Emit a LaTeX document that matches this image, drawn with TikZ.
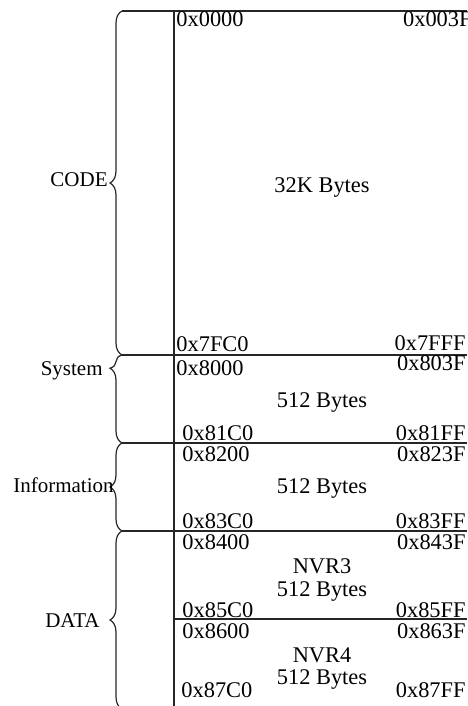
\documentclass[tikz,border=0pt]{standalone}
\usepackage{fontspec}
\setmainfont{Liberation Serif}
\usetikzlibrary{decorations.pathreplacing}
\tikzset{
    addrleft/.style={anchor=base west, inner sep=0pt, font=\fontsize{11.2}{12}\selectfont},
    addrright/.style={anchor=base east, inner sep=0pt, font=\fontsize{11.2}{12}\selectfont},
    sizetext/.style={anchor=base, inner sep=0pt, font=\fontsize{11.2}{12}\selectfont},
    arealabel/.style={anchor=base east, inner sep=0pt, font=\fontsize{10.5}{12}\selectfont},
    bound/.style={line width=0.6pt, draw=black!85},
    areabrace/.style={decorate, decoration={brace, amplitude=6pt}, line width=0.6pt, draw=black!85},
}

\begin{document}
\begin{tikzpicture}[x=0.5pt, y=-0.5pt]
    \useasboundingbox (0,0) rectangle (467,706);

    % Grenzen
    \coordinate (b0) at (122,11);
    \coordinate (b1) at (122,355);
    \coordinate (b2) at (122,443);
    \coordinate (b3) at (122,531);
    \coordinate (b4) at (122,709);
    \coordinate (r0) at (467,11);
    \coordinate (r1) at (467,355);
    \coordinate (r2) at (467,443);
    \coordinate (r3) at (467,531);
    \coordinate (v0) at (174,11);
    \coordinate (v1) at (174,706);
    \coordinate (n0) at (174,619);
    \coordinate (n1) at (467,619);

    \draw[bound] (b0) -- (r0);
    \draw[bound] (b1) -- (r1);
    \draw[bound] (b2) -- (r2);
    \draw[bound] (b3) -- (r3);
    \draw[bound] (n0) -- (n1);
    \draw[bound] (v0) -- (v1);

    % Klammern
    \draw[areabrace] (b1) -- (b0);
    \draw[areabrace, decoration={aspect=0.85}] (b2) -- (b1);
    \draw[areabrace] (b3) -- (b2);
    \draw[areabrace] (b4) -- (b3);

    \node[arealabel] (code) at (108,186) {CODE};
    \node[arealabel] (sys) at (103,375) {System};
    \node[arealabel] (info) at (114,492) {Information};
    \node[arealabel] (data) at (100,627) {DATA};

    % CODE
    \node[addrleft] (c0) at (176,27) {0x0000};
    \node[addrright] (c1) at (472,27) {0x003F};
    \node[sizetext] (csize) at (322,192) {32K Bytes};
    \node[addrleft] (c2) at (176,351) {0x7FC0};
    \node[addrright] (c3) at (466,350) {0x7FFF};

    % System
    \node[addrleft] (s0) at (176,375) {0x8000};
    \node[addrright] (s1) at (466,370) {0x803F};
    \node[sizetext] (ssize) at (322,407) {512 Bytes};
    \node[addrleft] (s2) at (182,440) {0x81C0};
    \node[addrright] (s3) at (466,440) {0x81FF};

    % Information
    \node[addrleft] (i0) at (182,461) {0x8200};
    \node[addrright] (i1) at (466,461) {0x823F};
    \node[sizetext] (isize) at (322,493) {512 Bytes};
    \node[addrleft] (i2) at (182,528) {0x83C0};
    \node[addrright] (i3) at (466,528) {0x83FF};

    % DATA
    \node[addrleft] (d0) at (182,549) {0x8400};
    \node[addrright] (d1) at (466,549) {0x843F};
    \node[sizetext] (nvr3) at (322,573) {NVR3};
    \node[sizetext] (d3size) at (322,596) {512 Bytes};
    \node[addrleft] (d2) at (182,617) {0x85C0};
    \node[addrright] (d3) at (466,617) {0x85FF};
    \node[addrleft] (d4) at (182,638) {0x8600};
    \node[addrright] (d5) at (466,638) {0x863F};
    \node[sizetext] (nvr4) at (322,662) {NVR4};
    \node[sizetext] (d4size) at (322,684) {512 Bytes};
    \node[addrleft] (d6) at (181,697) {0x87C0};
    \node[addrright] (d7) at (466,697) {0x87FF};
\end{tikzpicture}
\end{document}
